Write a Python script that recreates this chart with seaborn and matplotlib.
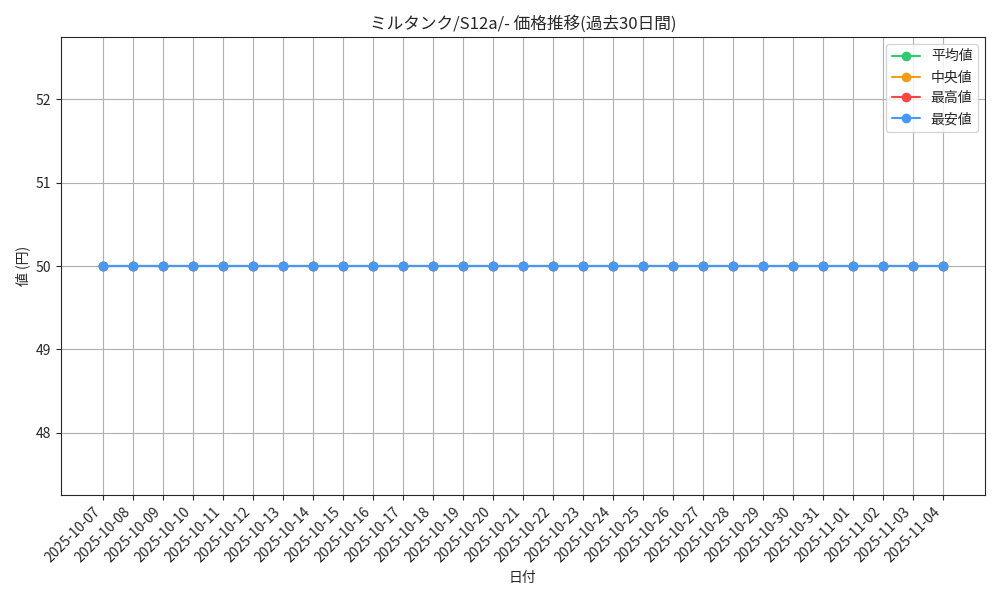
import matplotlib
matplotlib.use("Agg")
import matplotlib.pyplot as plt
import seaborn as sns
import pandas as pd

dates = ["2025-10-07","2025-10-08","2025-10-09","2025-10-10","2025-10-11","2025-10-12","2025-10-13",
         "2025-10-14","2025-10-15","2025-10-16","2025-10-17","2025-10-18","2025-10-19","2025-10-20",
         "2025-10-21","2025-10-22","2025-10-23","2025-10-24","2025-10-25","2025-10-26","2025-10-27",
         "2025-10-28","2025-10-29","2025-10-30","2025-10-31","2025-11-01","2025-11-02","2025-11-03","2025-11-04"]
avg = [50]*29
median = [50]*29
high = [50]*29
low = [50]*29

sns.set_style("ticks")
plt.rcParams['font.family'] = ['Noto Sans CJK JP', 'DejaVu Sans']

fig, ax = plt.subplots(figsize=(10, 6), dpi=100)
series = [("平均値", avg, "#2ecc71"), ("中央値", median, "#f39c12"),
          ("最高値", high, "#ff4444"), ("最安値", low, "#4499ff")]
for name, vals, col in series:
    df = pd.DataFrame({"date": dates, "v": vals})
    sns.lineplot(data=df, x="date", y="v", ax=ax, color=col, marker="o",
                 markersize=7, markeredgewidth=0, label=name, linewidth=1.5)

ax.set_ylim(47.25, 52.75)
ax.set_yticks([48, 49, 50, 51, 52])
ax.grid(True, color="#b0b0b0", linewidth=0.8)
ax.set_title("ミルタンク/S12a/- 価格推移(過去30日間)", fontsize=12)
ax.set_xlabel("日付")
ax.set_ylabel("値 (円)")
plt.setp(ax.get_xticklabels(), rotation=45, ha="right")
ax.legend(loc="upper right")
fig.tight_layout()
fig.savefig("out.png")
